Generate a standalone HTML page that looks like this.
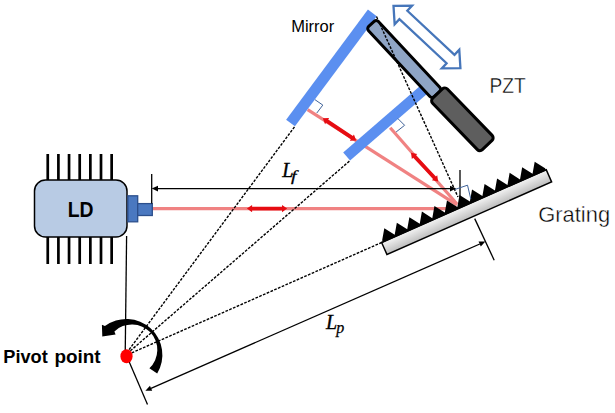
<!DOCTYPE html>
<html><head><meta charset="utf-8">
<style>
html,body{margin:0;padding:0;background:#fff;}
svg{display:block;}
.s{font-family:"Liberation Sans",sans-serif;}
.m{font-family:"Liberation Serif",serif;font-style:italic;}
</style></head>
<body>
<svg width="615" height="413" viewBox="0 0 615 413">
<defs>
<linearGradient id="gr" x1="0" y1="0" x2="0" y2="1">
<stop offset="0" stop-color="#f4f4f4"/>
<stop offset="1" stop-color="#bdbdbd"/>
</linearGradient>
</defs>
<rect width="615" height="413" fill="#fff"/>

<g stroke="#f08282" stroke-width="3.2" fill="none">
<line x1="152" y1="208.6" x2="457" y2="208.6"/>
<line x1="307.6" y1="109.6" x2="457" y2="204.8"/>
<line x1="390.2" y1="127.8" x2="457" y2="204"/>
</g>

<g transform="translate(124.2 356.2) rotate(-53.4)">
<rect x="286.4" y="-11" width="137.2" height="11" fill="#5b8ff0"/>
</g>
<g transform="translate(124.2 356.2) rotate(-40.9)">
<rect x="298.9" y="-10.6" width="102" height="10.6" fill="#5b8ff0"/>
</g>

<g transform="translate(370.4 22.8) rotate(47)">
<rect x="1.5" y="-6.75" width="96" height="13.5" rx="3" fill="#8fa5c5" stroke="#000" stroke-width="3"/>
</g>
<g transform="translate(436.5 92.5) rotate(46)">
<rect x="1.5" y="-10.25" width="71.5" height="20.5" rx="3.5" fill="#5e5e5e" stroke="#000" stroke-width="3"/>
</g>

<g transform="translate(393.5 5.8) rotate(43)">
<path d="M0 0 L13.5 -12.8 L13.5 -5.8 L78 -5.8 L78 -12.8 L91.5 0 L78 12.8 L78 5.8 L13.5 5.8 L13.5 12.8 Z" fill="#fff" stroke="#4676ba" stroke-width="2.3" stroke-linejoin="miter"/>
</g>

<g stroke="#000" stroke-width="1.4" stroke-dasharray="2.7 1.4" fill="none">
<g transform="translate(124.2 356.2)">
<line x1="0" y1="0" x2="286.4" y2="0" transform="rotate(-53.4)"/>
<line x1="0" y1="0" x2="298.9" y2="0" transform="rotate(-40.9)"/>
<line x1="0" y1="0" x2="281.4" y2="0" transform="rotate(-23.83)"/>
</g>
<line x1="376.5" y1="16.5" x2="458" y2="197"/>
</g>

<g transform="translate(124.2 356.2) rotate(-23.83)">
<rect x="281.4" y="0" width="180" height="13.2" fill="url(#gr)" stroke="#000" stroke-width="1.5"/>
<path d="M282.8 0.5 L282.8 -1.8 L289.65 -12.0 L296.50 -1.8 L303.35 -12.0 L310.20 -1.8 L317.05 -12.0 L323.90 -1.8 L330.75 -12.0 L337.60 -1.8 L344.45 -12.0 L351.30 -1.8 L358.15 -12.0 L365.00 -1.8 L371.85 -12.0 L378.70 -1.8 L385.55 -12.0 L392.40 -1.8 L399.25 -12.0 L406.10 -1.8 L412.95 -12.0 L419.80 -1.8 L426.65 -12.0 L433.50 -1.8 L440.35 -12.0 L447.20 -1.8 L454.05 -12.0 L460.90 -1.8 L460.90 0.5 Z" fill="#000"/>
</g>

<g fill="#e60c12">
<path transform="translate(246.9 208.6) rotate(0.00)" d="M0 0 L5.2 -3.7 L5.2 -1.9 L35.10 -1.9 L35.10 -3.7 L40.30 0 L35.10 3.7 L35.10 1.9 L5.2 1.9 L5.2 3.7 Z"/>
<path transform="translate(322.8 118.2) rotate(33.73)" d="M0 0 L5.2 -3.7 L5.2 -1.9 L34.96 -1.9 L34.96 -3.7 L40.16 0 L34.96 3.7 L34.96 1.9 L5.2 1.9 L5.2 3.7 Z"/>
<path transform="translate(411 152.7) rotate(46.74)" d="M0 0 L5.2 -3.7 L5.2 -1.9 L34.35 -1.9 L34.35 -3.7 L39.55 0 L34.35 3.7 L34.35 1.9 L5.2 1.9 L5.2 3.7 Z"/>
</g>

<g fill="#000"><rect x="46.40" y="154" width="2.7" height="26"/><rect x="46.40" y="237" width="2.7" height="27"/><rect x="57.05" y="154" width="2.7" height="26"/><rect x="57.05" y="237" width="2.7" height="27"/><rect x="67.70" y="154" width="2.7" height="26"/><rect x="67.70" y="237" width="2.7" height="27"/><rect x="78.35" y="154" width="2.7" height="26"/><rect x="78.35" y="237" width="2.7" height="27"/><rect x="89.00" y="154" width="2.7" height="26"/><rect x="89.00" y="237" width="2.7" height="27"/><rect x="99.65" y="154" width="2.7" height="26"/><rect x="99.65" y="237" width="2.7" height="27"/><rect x="110.30" y="154" width="2.7" height="26"/><rect x="110.30" y="237" width="2.7" height="27"/></g>
<rect x="34.5" y="180" width="92.5" height="57" rx="11" fill="#b8cbe4" stroke="#000" stroke-width="1.5"/>
<rect x="127.9" y="195.8" width="9.8" height="26" fill="#4a78c0" stroke="#2c4f8c" stroke-width="1.3"/>
<rect x="137.7" y="203.6" width="14.6" height="11.9" fill="#4a78c0" stroke="#2c4f8c" stroke-width="1.3"/>
<text class="s" transform="translate(80.7 216.6) scale(0.88 1)" font-size="22" font-weight="bold" text-anchor="middle">LD</text>

<g stroke="#000" stroke-width="1.3" fill="none">
<line x1="126.6" y1="236" x2="125.2" y2="356"/>
<line x1="126.8" y1="356.2" x2="147.5" y2="404.4"/>
<line x1="474.7" y1="218.6" x2="494.2" y2="260.2"/>
<line x1="151" y1="388.3" x2="479.8" y2="244"/>
<line x1="151.7" y1="174" x2="151.7" y2="203.5"/>
<line x1="460" y1="170" x2="460" y2="197.6"/>
<line x1="157" y1="188.6" x2="451" y2="188.6"/>
</g>
<g fill="#000">
<path d="M151.7 188.6 L158 185.8 L158 191.4 Z"/>
<path d="M456.2 188.6 L450 185.8 L450 191.4 Z"/>
<g transform="translate(145.4 390.8) rotate(-23.71)">
<path d="M0 0 L6.2 -2.8 L6.2 2.8 Z"/>
<path d="M371.3 0 L365.1 -2.8 L365.1 2.8 Z"/>
</g>
</g>

<g stroke="#3f6298" stroke-width="1" fill="none">
<path d="M315 99.7 L322.8 105.1 L316.8 113"/>
<path d="M397.8 118.5 L404.6 125.3 L396.1 132"/>
<path d="M454.8 189.5 L467.5 185.2 L470.8 199"/>
</g>

<path d="M157.2 373.6 A36 36 0 0 0 104.9 326.1 L101.9 324.8 L102.3 336.4 L115.6 334.6 L114.4 331.4 A25.3 25.3 0 0 1 149.4 368.3 Z" fill="#000"/>
<ellipse cx="126.5" cy="356.2" rx="6.1" ry="7" fill="#f00"/>

<text class="s" x="291.2" y="31.7" font-size="16.5">Mirror</text>
<text class="s" transform="translate(489.5 92.7) scale(0.87 1)" x="0" y="0" font-size="22" stroke="#fff" stroke-width="0.4">PZT</text>
<text class="s" transform="translate(538.2 221.8) scale(1.02 1)" x="0" y="0" font-size="21.5" stroke="#fff" stroke-width="0.4">Grating</text>
<text class="s" transform="translate(3.3 363.2) scale(1.04 1)" font-size="17.5" font-weight="bold">Pivot</text>
<text class="s" transform="translate(54.4 363.2) scale(1.08 1)" font-size="17.5" font-weight="bold">point</text>
<text class="m" x="282.2" y="176.8" font-size="20" stroke="#000" stroke-width="0.35">L</text>
<text class="m" transform="translate(291 181.3) scale(1.35 1)" x="0" y="0" font-size="14.5" stroke="#000" stroke-width="0.25">f</text>
<text class="m" x="326" y="328.7" font-size="20" stroke="#000" stroke-width="0.35">L</text>
<text class="m" x="336.3" y="333.2" font-size="16" stroke="#000" stroke-width="0.25">p</text>
</svg>
</body></html>
